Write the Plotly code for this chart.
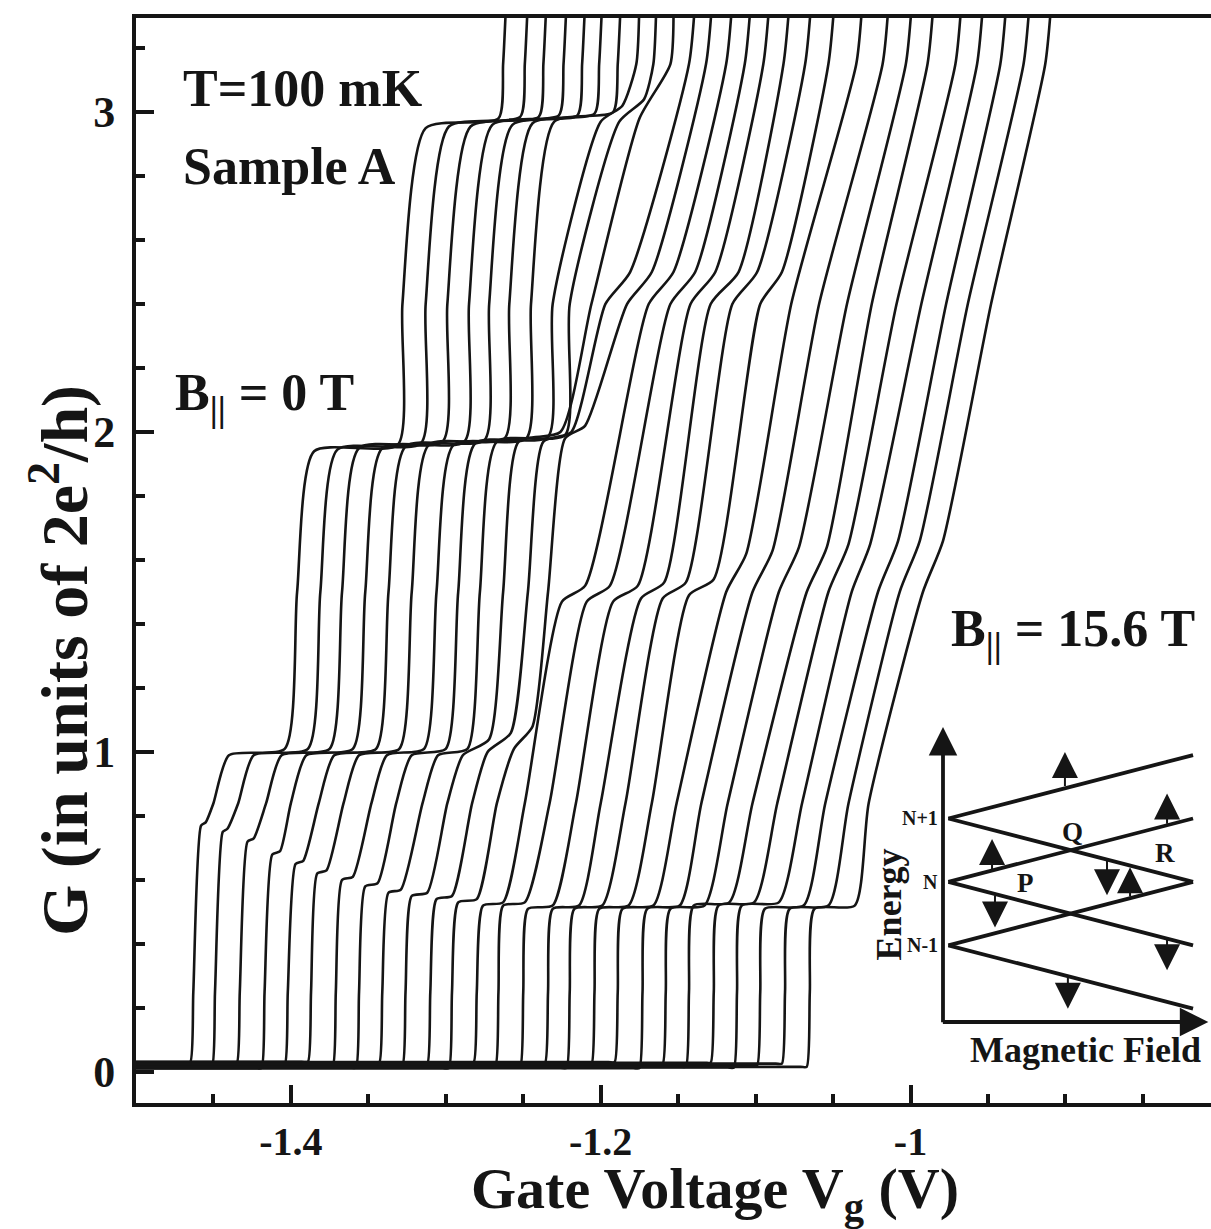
import plotly.graph_objects as go

# ---------------- main data: 27 conductance traces (B|| = 0 ... 15.6 T) ----------------
VG_START = -1.5
LEVELS = dict(g025=0.25, g084=0.84, g150=1.5, g240=2.4, g315=3.15, gtop=3.35)

Z0 = [0.030, 0.016, 0.026, 0.012, 0.022, 0.032, 0.018, 0.014, 0.028, 0.020, 0.024, 0.012, 0.030, 0.018,
      0.015, 0.027, 0.013, 0.022, 0.031, 0.012, 0.025, 0.017, 0.029, 0.014, 0.021, 0.026, 0.016]
PRE = [-1.469, -1.455, -1.439, -1.423, -1.408, -1.393, -1.377, -1.362, -1.347, -1.332, -1.316, -1.302, -1.286, -1.272,
       -1.256, -1.240, -1.226, -1.210, -1.195, -1.179, -1.164, -1.149, -1.133, -1.118, -1.103, -1.087, -1.071]
FOOT = [-1.465, -1.451, -1.435, -1.419, -1.404, -1.389, -1.373, -1.358, -1.343, -1.328, -1.312, -1.298, -1.282, -1.268,
        -1.252, -1.236, -1.222, -1.206, -1.191, -1.175, -1.160, -1.145, -1.129, -1.114, -1.099, -1.083, -1.067]
X025 = [-1.463, -1.449, -1.433, -1.417, -1.402, -1.387, -1.371, -1.356, -1.341, -1.326, -1.310, -1.296, -1.280, -1.266,
        -1.250, -1.234, -1.220, -1.204, -1.189, -1.173, -1.158, -1.143, -1.127, -1.112, -1.097, -1.081, -1.065]
S1G = [0.77, 0.75, 0.72, 0.68, 0.65, 0.62, 0.60, 0.58, 0.56, 0.55, 0.54, 0.53, 0.52, 0.52,
       0.51, 0.51, 0.51, 0.51, 0.51, 0.51, 0.51, 0.52, 0.52, 0.52, 0.51, 0.51, 0.51]
S1BG = [0.78, 0.76, 0.73, 0.69, 0.66, 0.63, 0.61, 0.59, 0.57, 0.56, 0.55, 0.54, 0.53, 0.53,
        0.52, 0.52, 0.52, 0.52, 0.52, 0.52, 0.52, 0.53, 0.53, 0.53, 0.52, 0.52, 0.52]
S1A = [-1.458, -1.444, -1.428, -1.412, -1.397, -1.383, -1.367, -1.352, -1.337, -1.322, -1.306, -1.292, -1.276, -1.263,
       -1.247, -1.231, -1.217, -1.201, -1.186, -1.170, -1.155, -1.140, -1.124, -1.109, -1.094, -1.078, -1.062]
S1B = [-1.455, -1.441, -1.424, -1.407, -1.392, -1.377, -1.360, -1.344, -1.329, -1.312, -1.296, -1.280, -1.263, -1.249,
       -1.231, -1.214, -1.199, -1.182, -1.166, -1.149, -1.133, -1.117, -1.101, -1.085, -1.069, -1.053, -1.036]
X084 = [-1.450, -1.434, -1.416, -1.400, -1.382, -1.366, -1.348, -1.332, -1.315, -1.299, -1.283, -1.267, -1.249, -1.233,
        -1.216, -1.200, -1.184, -1.167, -1.151, -1.135, -1.118, -1.102, -1.086, -1.070, -1.055, -1.040, -1.027]
_ = None
P1A = [-1.440, -1.424, -1.406, -1.390, -1.372, -1.356, -1.338, -1.322, -1.305, -1.289, -1.273, -1.256,
       _, _, _, _, _, _, _, _, _, _, _, _, _, _, _]
P1AG = [0.99, 0.99, 0.99, 0.99, 0.99, 0.99, 0.99, 0.99, 0.99, 0.99, 1.00, 1.01,
        _, _, _, _, _, _, _, _, _, _, _, _, _, _, _]
P1B = [-1.404, -1.389, -1.375, -1.360, -1.345, -1.330, -1.314, -1.300, -1.286, -1.272, -1.258, -1.244,
       _, _, _, _, _, _, _, _, _, _, _, _, _, _, _]
P1BG = [1.01, 1.01, 1.01, 1.01, 1.01, 1.01, 1.01, 1.01, 1.01, 1.04, 1.06, 1.08,
        _, _, _, _, _, _, _, _, _, _, _, _, _, _, _]
X150 = [-1.396, -1.381, -1.367, -1.352, -1.337, -1.322, -1.306, -1.292, -1.278, -1.263, -1.247, -1.234,
        _, _, _, _, _, _, -1.119, -1.102, -1.085, -1.067, -1.053, -1.038, -1.021, -1.007, -0.992]
P2A = [-1.385, -1.370, -1.356, -1.341, -1.326, -1.311, -1.295, -1.281, -1.267, -1.253, -1.237, -1.223, -1.225, -1.209,
       -1.192, -1.174, -1.160, -1.143, -1.106, -1.089, -1.072, -1.054, -1.040, -1.026, -1.008, -0.994, -0.979]
P2AG = [1.94, 1.945, 1.95, 1.95, 1.955, 1.96, 1.96, 1.965, 1.97, 1.97, 1.97, 1.98, 1.47, 1.47,
        1.47, 1.48, 1.48, 1.49, 1.62, 1.63, 1.64, 1.64, 1.65, 1.65, 1.66, 1.66, 1.66]
P2B = [-1.331, -1.316, -1.302, -1.288, -1.275, -1.262, -1.248, -1.234, -1.223, -1.226, -1.219, -1.210, -1.210, -1.194,
       -1.176, -1.159, -1.145, -1.127, _, _, _, _, _, _, _, _, _]
P2BG = [1.96, 1.965, 1.97, 1.97, 1.975, 1.98, 1.98, 1.985, 1.99, 2.00, 2.00, 2.02, 1.52, 1.52,
        1.52, 1.53, 1.53, 1.54, _, _, _, _, _, _, _, _, _]
X240 = [-1.328, -1.313, -1.299, -1.285, -1.272, -1.259, -1.245, -1.231, -1.220, -1.206, _, _, _, _,
        _, _, _, _, -1.077, -1.059, -1.041, -1.025, -1.009, -0.993, -0.977, -0.963, -0.948]
P3A = [-1.313, -1.298, -1.284, -1.270, -1.257, -1.244, -1.230, -1.200, -1.188, -1.175, -1.197, -1.183, -1.169, -1.155,
       -1.142, -1.129, -1.115, -1.097, _, _, _, _, _, _, _, _, _]
P3AG = [2.95, 2.955, 2.955, 2.96, 2.96, 2.965, 2.97, 2.97, 2.97, 2.98, 2.40, 2.40, 2.40, 2.40,
        2.40, 2.40, 2.40, 2.40, _, _, _, _, _, _, _, _, _]
P3B = [-1.266, -1.252, -1.240, -1.227, -1.215, -1.204, -1.192, -1.186, -1.172, _, -1.181, -1.167, -1.153, -1.139,
       -1.126, -1.111, -1.099, -1.083, _, _, _, _, _, _, _, _, _]
P3BG = [2.98, 2.985, 2.985, 2.99, 2.99, 2.995, 3.00, 3.02, 3.04, _, 2.50, 2.50, 2.50, 2.50,
        2.50, 2.50, 2.50, 2.50, _, _, _, _, _, _, _, _, _]
X315 = [-1.263, -1.249, -1.237, -1.224, -1.212, -1.201, -1.189, -1.177, -1.166, -1.155, -1.143, -1.132, -1.119, -1.107,
        -1.095, -1.082, -1.068, -1.053, -1.035, -1.018, -1.003, -0.989, -0.971, -0.957, -0.942, -0.927, -0.913]
XTOP = [-1.261, -1.247, -1.235, -1.222, -1.210, -1.199, -1.187, -1.175, -1.164, -1.153, -1.139, -1.128, -1.115, -1.103,
        -1.091, -1.078, -1.064, -1.049, -1.031, -1.014, -0.999, -0.985, -0.967, -0.953, -0.938, -0.923, -0.909]

X_TICKS = [-1.4, -1.2, -1.0]
X_TICKTEXT = ["-1.4", "-1.2", "-1"]
Y_TICKS = [0, 1, 2, 3]
X_RANGE = [-1.5, -0.806]
Y_RANGE = [-0.097, 3.294]

# ---------------- inset (energy level diagram) ----------------
INSET_X = [0.02, 0.933]
INSET_LEVELS = [0.26, 0.475, 0.69]
INSET_LEVEL_TEXT = ["N-1", "N", "N+1"]
INSET_SPLIT = 0.215
# spin arrows: x, tail y, head y
SPIN_X = [0.455, 0.836, 0.183, 0.194, 0.612, 0.698, 0.836, 0.466]
SPIN_Y0 = [0.795, 0.667, 0.513, 0.434, 0.551, 0.420, 0.283, 0.155]
SPIN_Y1 = [0.915, 0.775, 0.620, 0.320, 0.430, 0.525, 0.175, 0.045]
POINT_TEXT = ["P", "Q", "R"]
POINT_X = [0.306, 0.485, 0.828]
POINT_Y = [0.471, 0.644, 0.573]

INK = "#151515"
SERIF = "Liberation Serif"

fig = go.Figure()

n = len(X025)
for i in range(n):
    pts = [(VG_START, Z0[i]), (PRE[i], Z0[i]), (FOOT[i], Z0[i]), (X025[i], LEVELS["g025"]),
           (S1A[i], S1G[i]), (S1B[i], S1BG[i]), (X084[i], LEVELS["g084"]),
           (P1A[i], P1AG[i]), (P1B[i], P1BG[i]), (X150[i], LEVELS["g150"]),
           (P2A[i], P2AG[i]), (P2B[i], P2BG[i]), (X240[i], LEVELS["g240"]),
           (P3A[i], P3AG[i]), (P3B[i], P3BG[i]), (X315[i], LEVELS["g315"]),
           (XTOP[i], LEVELS["gtop"])]
    pts = sorted([p for p in pts if p[0] is not None], key=lambda p: p[0])
    fig.add_trace(go.Scatter(
        x=[p[0] for p in pts], y=[p[1] for p in pts], mode="lines",
        line=dict(color=INK, width=2.6, shape="spline", smoothing=0.6),
        hoverinfo="skip", showlegend=False, xaxis="x", yaxis="y"))

# inset lines
for L in INSET_LEVELS:
    for sgn in (1, -1):
        fig.add_trace(go.Scatter(
            x=INSET_X, y=[L, L + sgn * INSET_SPLIT], mode="lines",
            line=dict(color=INK, width=3.8), hoverinfo="skip", showlegend=False,
            xaxis="x2", yaxis="y2"))

annotations = []
def txt(x, y, s, size, xref="x", yref="y", xanchor="left", yanchor="middle", angle=0):
    annotations.append(dict(x=x, y=y, xref=xref, yref=yref, text="<b>%s</b>" % s, showarrow=False,
                            xanchor=xanchor, yanchor=yanchor, textangle=angle,
                            font=dict(family=SERIF, size=size, color=INK)))

txt(-1.471, 3.075, "T=100 mK", 52)
txt(-1.471, 2.83, "Sample A", 52)
txt(-1.476, 2.11, "B<sub>||</sub> = 0 T", 52)
txt(-0.975, 1.375, "B<sub>||</sub> = 15.6 T", 52)

# axis titles
txt(0.5386, -0.0825, "Gate Voltage V<sub>g</sub> (V)", 58, xref="paper", yref="paper", xanchor="center")
txt(-0.070, 0.408, "G (in units of 2e<sup>2</sup>/h)", 66, xref="paper", yref="paper",
    xanchor="center", angle=-90)

# inset texts
for L, s in zip(INSET_LEVELS, INSET_LEVEL_TEXT):
    txt(-0.012, L, s, 20, xref="x2", yref="y2", xanchor="right")
for s, x, y in zip(POINT_TEXT, POINT_X, POINT_Y):
    txt(x, y, s, 27, xref="x2", yref="y2", xanchor="center")
txt(-0.200, 0.40, "Energy", 36, xref="x2", yref="y2", xanchor="center", angle=-90)
txt(0.53, -0.095, "Magnetic Field", 36, xref="x2", yref="y2", xanchor="center")

# inset axes arrows
annotations.append(dict(x=0.0, y=1.0, ax=0.0, ay=-0.006, xref="x2", yref="y2", axref="x2", ayref="y2",
                        showarrow=True, arrowhead=2, arrowsize=1.5, arrowwidth=3.8, arrowcolor=INK, text=""))
annotations.append(dict(x=0.99, y=0.0, ax=-0.006, ay=0.0, xref="x2", yref="y2", axref="x2", ayref="y2",
                        showarrow=True, arrowhead=2, arrowsize=1.5, arrowwidth=3.8, arrowcolor=INK, text=""))
for x, y0, y1 in zip(SPIN_X, SPIN_Y0, SPIN_Y1):
    annotations.append(dict(x=x, y=y1, ax=x, ay=y0, xref="x2", yref="y2", axref="x2", ayref="y2",
                            showarrow=True, arrowhead=2, arrowsize=2.6, arrowwidth=2, arrowcolor=INK, text=""))

tickfont = dict(family=SERIF, size=40, color=INK, weight="bold")
fig.update_layout(
    width=1211, height=1229,
    margin=dict(l=136, r=0, t=18, b=126),
    paper_bgcolor="white", plot_bgcolor="rgba(0,0,0,0)",
    annotations=annotations,
    xaxis=dict(range=X_RANGE, showline=True, linewidth=4, linecolor=INK, mirror=True,
               ticks="inside", ticklen=18, tickwidth=4, tickcolor=INK,
               tickvals=X_TICKS, ticktext=X_TICKTEXT, tickfont=tickfont, ticklabelstandoff=0,
               minor=dict(dtick=0.05, tick0=-1.5, ticks="inside", ticklen=9, tickwidth=4, tickcolor=INK),
               showgrid=False, zeroline=False),
    yaxis=dict(range=Y_RANGE, showline=True, linewidth=4, linecolor=INK, mirror=False,
               ticks="inside", ticklen=18, tickwidth=4, tickcolor=INK,
               tickvals=Y_TICKS, tickfont=dict(family=SERIF, size=44, color=INK, weight="bold"),
               ticklabelstandoff=8,
               minor=dict(dtick=0.2, tick0=0, ticks="inside", ticklen=9, tickwidth=4, tickcolor=INK),
               showgrid=False, zeroline=False),
    xaxis2=dict(domain=[0.6759, 1.0], range=[-0.3, 1.0], anchor="y2", visible=False, fixedrange=True),
    yaxis2=dict(domain=[0.0203, 0.3601], range=[-0.2, 1.05], anchor="x2", visible=False, fixedrange=True),
)

fig.write_html("out.html")
